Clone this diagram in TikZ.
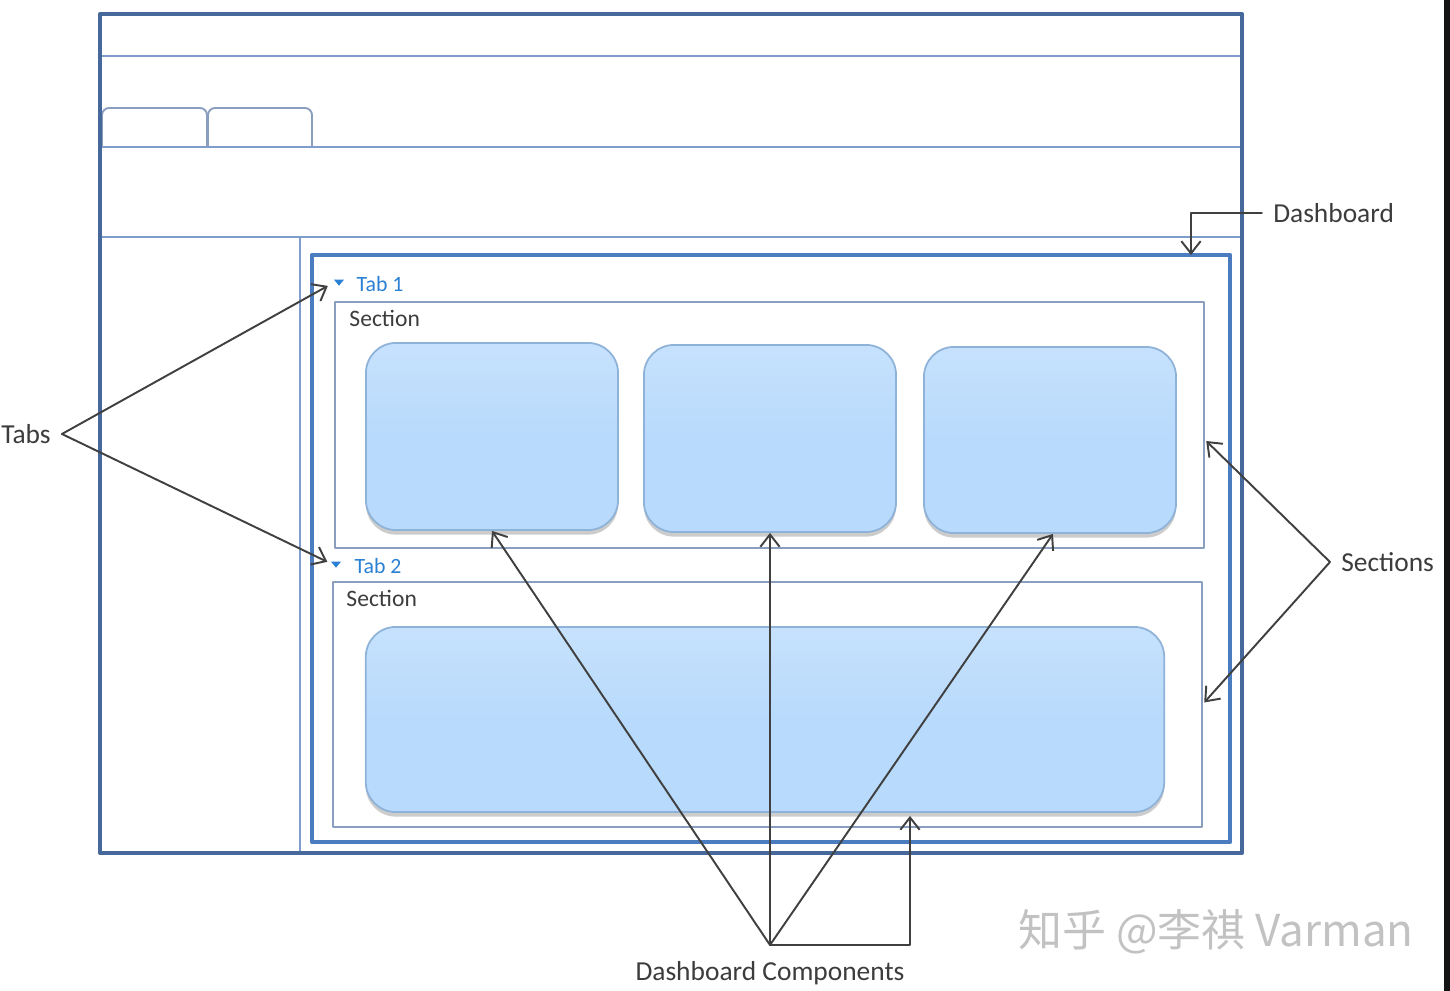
\documentclass[tikz,border=0pt]{standalone}
\usepackage{fontspec}
\setmainfont{Carlito}
\newfontfamily\cjkfont{Noto Sans CJK SC}
\usepackage{tikz}
\usetikzlibrary{arrows.meta,positioning,calc,shadows,shapes.geometric}

\definecolor{winblue}{HTML}{46689B}
\definecolor{lineblue}{HTML}{7F9DCC}
\definecolor{dashblue}{HTML}{4A7CBF}
\definecolor{secgrey}{HTML}{8A9EC0}
\definecolor{compfill}{HTML}{B8DAFC}
\definecolor{compedge}{HTML}{8FB2D8}
\definecolor{tabtext}{HTML}{2A80D3}
\definecolor{labelgrey}{HTML}{3C3C3C}

\tikzset{
  lbl/.style={font=\fontsize{7.8}{9}\selectfont,text=labelgrey,inner sep=3pt},
  seclbl/.style={font=\fontsize{6.7}{8}\selectfont,text=labelgrey,inner sep=0pt,anchor=west},
  tablbl/.style={font=\fontsize{6.2}{7}\selectfont,text=tabtext,inner sep=0pt,anchor=west},
  tabmark/.style={isosceles triangle,shape border rotate=270,fill=tabtext,inner sep=0pt,
    minimum width=0.1cm,minimum height=0.06cm,isosceles triangle stretches},
  thin/.style={draw=lineblue,line width=.55pt},
  secbox/.style={draw=secgrey,line width=.55pt,minimum width=8.69cm},
  comp/.style={draw=compedge,line width=.5pt,rounded corners=0.3cm,
    top color=compfill!80!white,bottom color=compfill,middle color=compfill,
    drop shadow={shadow xshift=0pt,shadow yshift=-1.3pt,opacity=.4}},
  callout/.style={draw=black!75,line width=.55pt,-{Straight Barb[length=3.5pt,width=5.5pt]}}
}

\begin{document}
\begin{tikzpicture}[x=0.01cm,y=-0.01cm,line cap=round,line join=round]
\path[use as bounding box] (0,0) rectangle (1450,991);
\fill[black!92] (1444,0) rectangle (1450,991);

% application window
\draw[thin] (100,56) -- (1242,56);
\draw[thin] (100,147) -- (1242,147);
\draw[thin] (100,237) -- (1242,237);
\draw[thin] (300,237) -- (300,853);
\draw[draw=secgrey,line width=.55pt,rounded corners=2pt] (102,147) -- (102,108) -- (207,108) -- (207,147);
\draw[draw=secgrey,line width=.55pt,rounded corners=2pt] (208,147) -- (208,108) -- (312,108) -- (312,147);
\draw[draw=winblue,line width=1.15pt] (100,14) rectangle (1242,853);

% dashboard
\node[draw=dashblue,line width=1.1pt,minimum width=9.18cm,minimum height=5.87cm] (dash) at (771,548.5) {};

% tabs and sections
\node[tabmark] (tri1) at (339,282) {};
\node[tablbl] (tab1) at (356,284) {Tab 1};
\node[secbox,minimum height=2.46cm] (sec1) at (769.5,425) {};
\node[seclbl] (sec1lbl) at ($(sec1.north west)+(15,17)$) {Section};

\node[tabmark] (tri2) at (336,564) {};
\node[tablbl] (tab2) at (354,566) {Tab 2};
\node[secbox,minimum height=2.45cm] (sec2) at (767.5,704.5) {};
\node[seclbl] (sec2lbl) at ($(sec2.north west)+(14,17)$) {Section};

% components
\node[comp,minimum width=2.52cm,minimum height=1.87cm] (c1) at (492,436.5) {};
\node[comp,minimum width=2.52cm,minimum height=1.87cm] (c2) at (770,438.5) {};
\node[comp,minimum width=2.52cm,minimum height=1.86cm] (c3) at (1050,440) {};
\node[comp,minimum width=7.98cm,minimum height=1.85cm] (c4) at (765,719.5) {};

% labels
\node[lbl] (tabs) at (26,434) {Tabs};
\node[lbl,anchor=west] (dashlbl) at (1262,213) {Dashboard};
\node[lbl,anchor=west] (secs) at (1330,562) {Sections};
\node[lbl] (comps) at (770,973) {Dashboard Components};
\coordinate (apex) at (770,945);
\coordinate (dashpt) at (1191,255);

% callouts
\draw[callout,shorten >=0.08cm] (tabs.east) -- (tri1.west);
\draw[callout,shorten >=0.05cm] (tabs.east) -- (tri2.west);
\draw[callout] (dashlbl.west) -| (dashpt);
\draw[callout] (secs.west) -- ($(sec1.east)+(1,16)$);
\draw[callout] (secs.west) -- ($(sec2.east)+(1,-2)$);
\draw[callout] (apex) -- (c1.south);
\draw[callout] (apex) -- (c2.south);
\draw[callout] (apex) -- ($(c3.south)+(3,0)$);
\draw[callout] (apex) -| ($(c4.south)+(145,3)$);

% watermark
\node[font=\cjkfont\fontsize{12.5}{14}\selectfont,text=black!24,inner sep=0pt] (mark) at (1216,932) {知乎 @李祺 Varman};
\end{tikzpicture}
\end{document}
